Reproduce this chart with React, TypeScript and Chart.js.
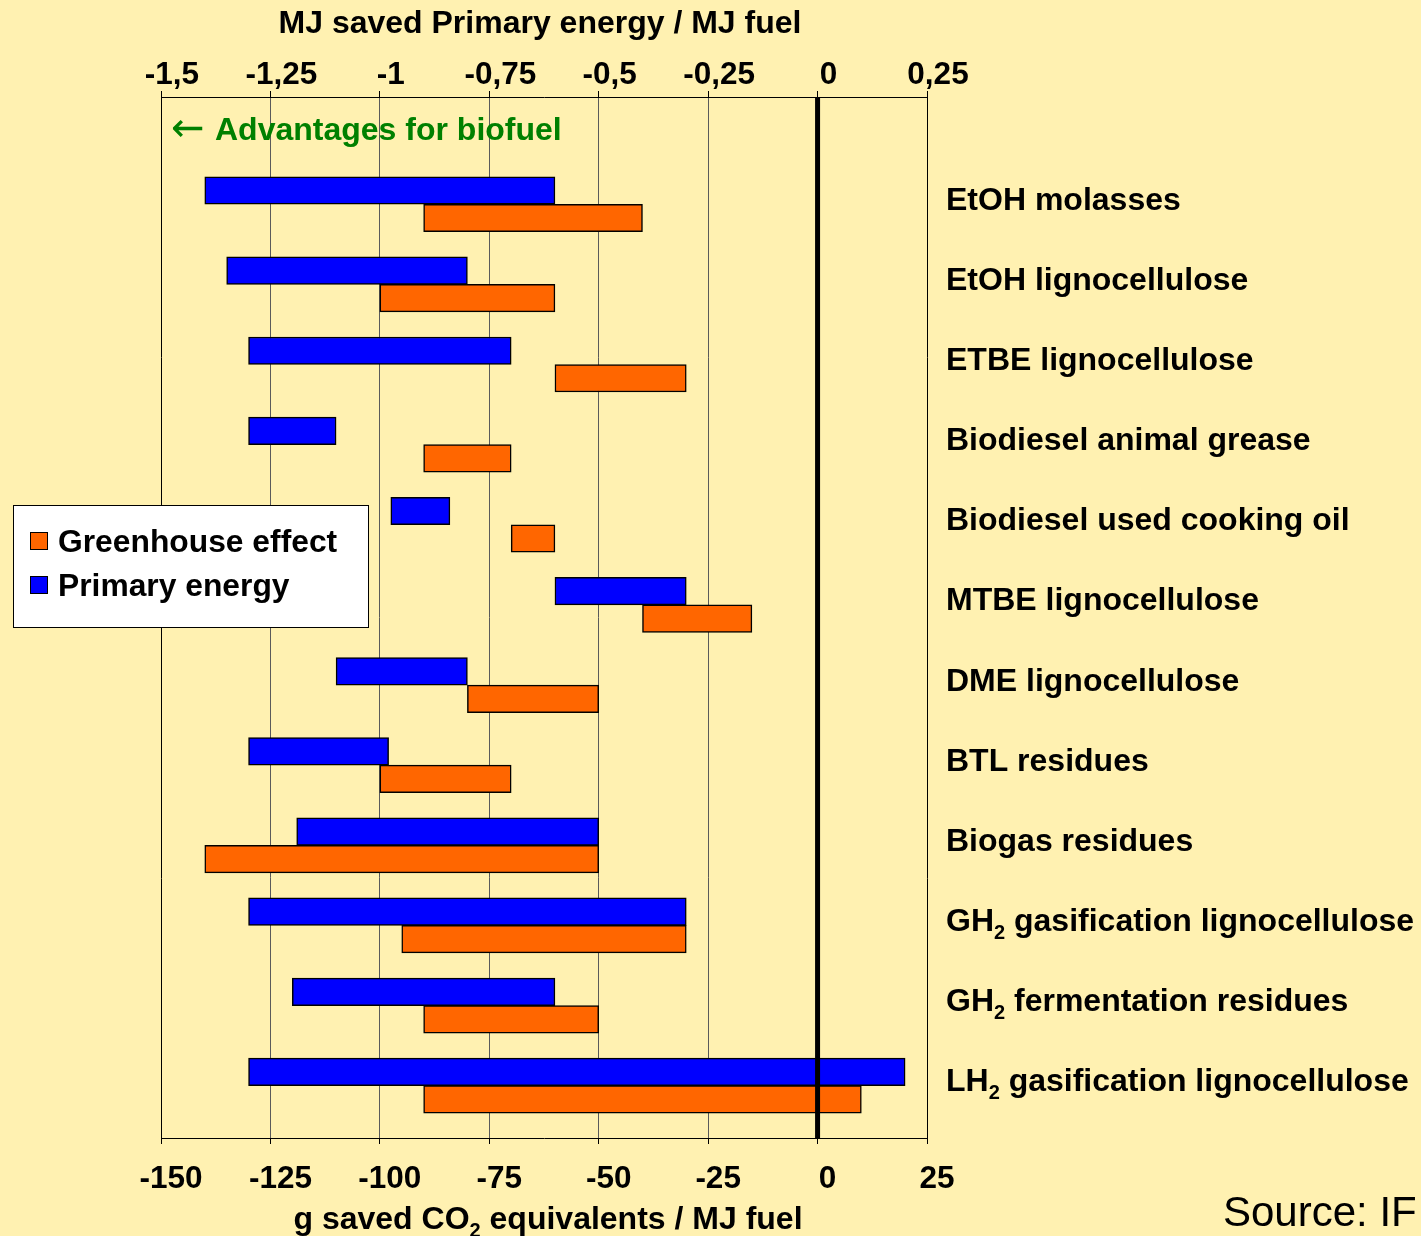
import React, { useEffect, useRef } from 'react';
import { Chart, registerables } from 'chart.js';

Chart.register(...registerables);

// ---------- data ----------
const categories = [
  'EtOH molasses',
  'EtOH lignocellulose',
  'ETBE lignocellulose',
  'Biodiesel animal grease',
  'Biodiesel used cooking oil',
  'MTBE lignocellulose',
  'DME lignocellulose',
  'BTL residues',
  'Biogas residues',
  'GH₂ gasification lignocellulose',
  'GH₂ fermentation residues',
  'LH₂ gasification lignocellulose',
];

// Primary energy: MJ saved primary energy / MJ fuel (range start / end)
const primaryStart = [-1.4, -1.35, -1.3, -1.3, -0.975, -0.6, -1.1, -1.3, -1.19, -1.3, -1.2, -1.3];
const primaryEnd = [-0.6, -0.8, -0.7, -1.1, -0.84, -0.3, -0.8, -0.98, -0.5, -0.3, -0.6, 0.2];

// Greenhouse effect: g saved CO2 equivalents / MJ fuel (range start / end)
const ghgStart = [-90, -100, -60, -90, -70, -40, -80, -100, -140, -95, -90, -90];
const ghgEnd = [-40, -60, -30, -70, -60, -15, -50, -70, -50, -30, -50, 10];

const co2Ticks = [-150, -125, -100, -75, -50, -25, 0, 25];
const mjTicks = [-1.5, -1.25, -1, -0.75, -0.5, -0.25, 0, 0.25];

const seriesNames = ['Greenhouse effect', 'Primary energy'];
const topTitle = 'MJ saved Primary energy / MJ fuel';
const bottomTitle = 'g saved CO₂ equivalents / MJ fuel';
const noteText = 'Advantages for biofuel';
const sourceText = 'Source: IF';

// ---------- styling ----------
const FONT = '"Liberation Sans", Arial, Helvetica, sans-serif';
const BG = '#FFF1B1';
const ORANGE = '#FF6600';
const BLUE = '#0000FF';
const W = 1421;
const H = 1236;
const Y_MIN = -1.339;
const Y_MAX = 11.653;

function drawRich(ctx: CanvasRenderingContext2D, text: string, x: number, y: number, size: number, align: 'left' | 'center') {
  const parts = text.split('₂');
  const mainFont = `bold ${size}px ${FONT}`;
  const subSize = Math.round(size * 0.64);
  const subFont = `bold ${subSize}px ${FONT}`;
  let total = 0;
  parts.forEach((p, i) => {
    ctx.font = mainFont;
    total += ctx.measureText(p).width;
    if (i < parts.length - 1) {
      ctx.font = subFont;
      total += ctx.measureText('2').width;
    }
  });
  let cx = align === 'center' ? x - total / 2 : x;
  ctx.textAlign = 'left';
  ctx.textBaseline = 'alphabetic';
  parts.forEach((p, i) => {
    ctx.font = mainFont;
    ctx.fillText(p, cx, y);
    cx += ctx.measureText(p).width;
    if (i < parts.length - 1) {
      ctx.font = subFont;
      ctx.fillText('2', cx, y + size * 0.26);
      cx += ctx.measureText('2').width;
    }
  });
}

const decorPlugin = {
  id: 'decor',
  beforeDraw(chart: any) {
    const ctx = chart.ctx;
    ctx.save();
    ctx.fillStyle = BG;
    ctx.fillRect(0, 0, chart.width, chart.height);
    ctx.restore();
  },
  afterDatasetsDraw(chart: any) {
    const ctx = chart.ctx;
    const xs = chart.scales.x;
    const area = chart.chartArea;
    const x0 = xs.getPixelForValue(0);
    ctx.save();
    ctx.strokeStyle = '#000';
    ctx.lineWidth = 5;
    ctx.beginPath();
    ctx.moveTo(x0, area.top);
    ctx.lineTo(x0, area.bottom);
    ctx.stroke();
    ctx.restore();
  },
  afterDraw(chart: any) {
    const ctx = chart.ctx as CanvasRenderingContext2D;
    const ys = chart.scales.y;
    const area = chart.chartArea;
    const cx = (area.left + area.right) / 2;
    ctx.save();
    ctx.fillStyle = '#000';

    // category labels on the right
    categories.forEach((name, i) => {
      drawRich(ctx, name, 946, ys.getPixelForValue(i) + 5.5, 32, 'left');
    });

    // axis titles
    drawRich(ctx, topTitle, cx - 4, 33, 32, 'center');
    drawRich(ctx, bottomTitle, cx + 4, 1229, 32, 'center');

    // note
    ctx.fillStyle = '#008000';
    ctx.font = `normal 40px "DejaVu Sans", sans-serif`;
    ctx.textBaseline = 'middle';
    ctx.textAlign = 'left';
    ctx.fillText('←', 171, 131);
    ctx.textBaseline = 'alphabetic';
    ctx.font = `bold 32px ${FONT}`;
    ctx.fillText(noteText, 215, 140);

    // legend
    ctx.fillStyle = '#FFFFFF';
    ctx.fillRect(13.5, 505.5, 355, 122);
    ctx.strokeStyle = '#000';
    ctx.lineWidth = 1;
    ctx.strokeRect(13.5, 505.5, 355, 122);
    const items = [
      { name: seriesNames[0], color: ORANGE, y: 541 },
      { name: seriesNames[1], color: BLUE, y: 585 },
    ];
    items.forEach((it) => {
      ctx.fillStyle = it.color;
      ctx.fillRect(30, it.y - 9, 17, 17);
      ctx.strokeStyle = '#000';
      ctx.lineWidth = 1;
      ctx.strokeRect(30.5, it.y - 8.5, 17, 17);
      ctx.fillStyle = '#000';
      ctx.font = `bold 31.8px ${FONT}`;
      ctx.textBaseline = 'alphabetic';
      ctx.fillText(it.name, 58, it.y + 11);
    });

    // source
    ctx.fillStyle = '#000';
    ctx.font = `normal 42px ${FONT}`;
    ctx.fillText(sourceText, 1223, 1226);
    ctx.restore();
  },
};

export default function App() {
  const canvasRef = useRef<HTMLCanvasElement | null>(null);

  useEffect(() => {
    document.body.style.margin = '0';
    document.body.style.background = BG;
    const canvas = canvasRef.current;
    if (!canvas) return;

    const tickFont = { family: FONT, size: 31.5, weight: 'bold' as const };

    const chart = new Chart(canvas, {
      type: 'bar',
      data: {
        datasets: [
          {
            label: seriesNames[1],
            data: categories.map((_, i) => ({ y: i, x: [primaryStart[i], primaryEnd[i]] })) as any,
            xAxisID: 'x2',
            yAxisID: 'y',
            stack: 'pe',
            backgroundColor: BLUE,
            borderColor: '#000',
            borderWidth: 1.5,
            borderSkipped: false,
            barThickness: 27.5,
          },
          {
            label: seriesNames[0],
            data: categories.map((_, i) => ({ y: i, x: [ghgStart[i], ghgEnd[i]] })) as any,
            xAxisID: 'x',
            yAxisID: 'y',
            stack: 'ghg',
            backgroundColor: ORANGE,
            borderColor: '#000',
            borderWidth: 1.5,
            borderSkipped: false,
            barThickness: 27.5,
          },
        ],
      },
      options: {
        indexAxis: 'y',
        responsive: false,
        animation: false,
        devicePixelRatio: 1,
        layout: { padding: { left: 0, right: W - 927, top: 0, bottom: 0 } },
        plugins: {
          legend: { display: false },
          tooltip: { enabled: false },
        },
        events: [],
        scales: {
          x: {
            type: 'linear',
            position: 'bottom',
            min: -150,
            max: 25,
            afterBuildTicks: (s: any) => {
              s.ticks = co2Ticks.map((v) => ({ value: v }));
            },
            afterFit: (s: any) => {
              s.height = H - 1138;
            },
            ticks: {
              font: tickFont,
              color: '#000',
              padding: 16,
              labelOffset: 10,
              autoSkip: false,
              maxRotation: 0,
              callback: (v: any) => String(v),
            },
            grid: {
              color: (c: any) =>
                c.tick && (c.tick.value === 0 || c.tick.value === -150 || c.tick.value === 25)
                  ? 'rgba(0,0,0,0)'
                  : '#5a5a5a',
              tickColor: '#000',
              tickLength: 6,
              lineWidth: 1,
            },
            border: { display: true, color: '#000', width: 1 },
          },
          x2: {
            type: 'linear',
            position: 'top',
            min: -1.5,
            max: 0.25,
            afterBuildTicks: (s: any) => {
              s.ticks = mjTicks.map((v) => ({ value: v }));
            },
            afterFit: (s: any) => {
              s.height = 97;
            },
            ticks: {
              font: tickFont,
              color: '#000',
              padding: -3,
              labelOffset: 11,
              autoSkip: false,
              maxRotation: 0,
              callback: (v: any) => String(v).replace('.', ','),
            },
            grid: {
              drawOnChartArea: false,
              tickColor: '#000',
              tickLength: 6,
              lineWidth: 1,
            },
            border: { display: true, color: '#000', width: 1 },
          },
          y: {
            type: 'linear',
            position: 'left',
            reverse: true,
            min: Y_MIN,
            max: Y_MAX,
            offset: false,
            ticks: { display: false },
            grid: { display: false, drawTicks: false, offset: false },
            border: { display: true, color: '#000', width: 1 },
            afterFit: (s: any) => {
              s.width = 161;
            },
          },
          y2: {
            type: 'linear',
            position: 'right',
            reverse: true,
            min: Y_MIN,
            max: Y_MAX,
            offset: false,
            ticks: { display: false },
            grid: { display: false, drawTicks: false, offset: false },
            border: { display: true, color: '#000', width: 1 },
            afterFit: (s: any) => {
              s.width = 0;
            },
          },
        },
      } as any,
      plugins: [decorPlugin],
    });

    return () => {
      chart.destroy();
    };
  }, []);

  return (
    <div style={{ width: W, height: H, background: BG, overflow: 'hidden' }}>
      <canvas ref={canvasRef} width={W} height={H} style={{ display: 'block', width: W, height: H }} />
    </div>
  );
}
